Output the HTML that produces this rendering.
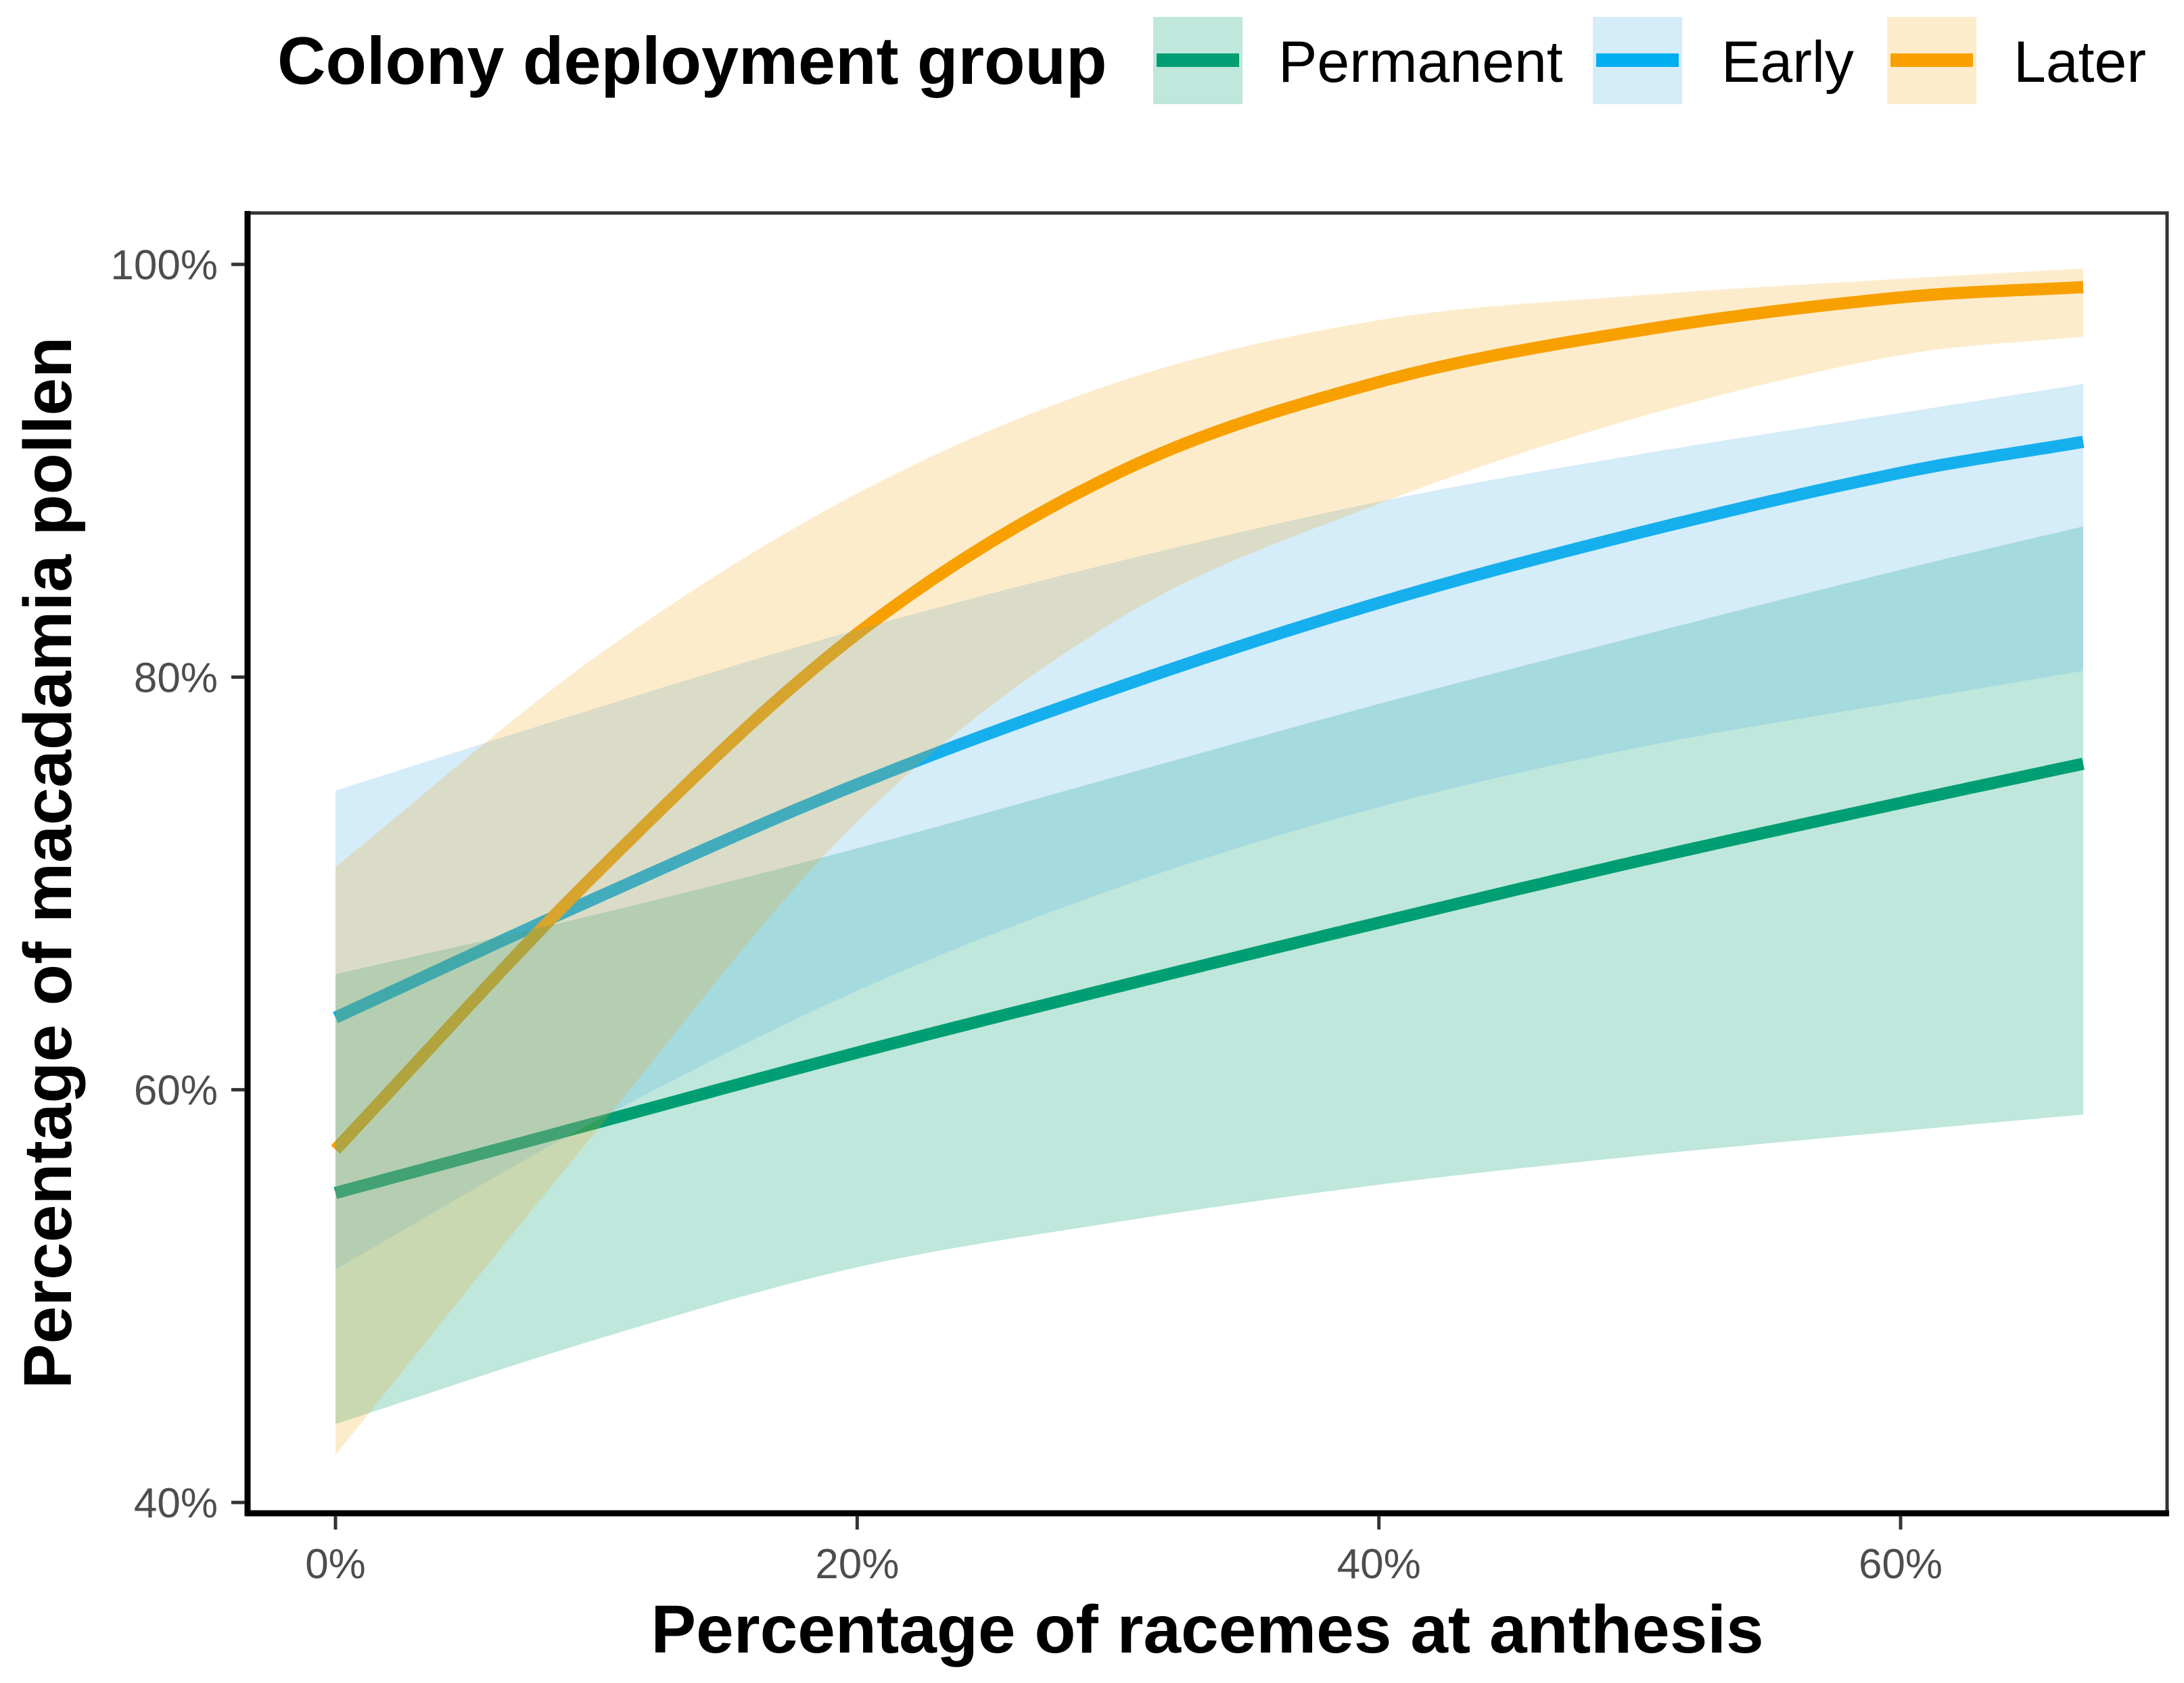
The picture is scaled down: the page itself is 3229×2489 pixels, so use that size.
<!DOCTYPE html>
<html><head><meta charset="utf-8"><style>
html,body{margin:0;padding:0;background:#fff;}
svg{display:block;}
text{font-family:"Liberation Sans",Arial,sans-serif;}
</style></head><body>
<svg id="chart" width="3229" height="2489" viewBox="0 0 3229 2489" xmlns="http://www.w3.org/2000/svg">
  <g id="legend">
    <text x="410" y="124" font-size="99" font-weight="bold" fill="#000">Colony deployment group</text>
    <g>
      <rect x="1705" y="25" width="132" height="129" fill="#009E73" fill-opacity="0.25"/>
      <rect x="1710" y="79" width="122" height="20" fill="#009E73"/>
      <text x="1890" y="121" font-size="86" fill="#000">Permanent</text>
    </g>
    <g>
      <rect x="2355" y="25" width="132" height="129" fill="#56B4E9" fill-opacity="0.25"/>
      <rect x="2360" y="79" width="122" height="20" fill="#00AEEF"/>
      <text x="2545" y="121" font-size="86" fill="#000">Early</text>
    </g>
    <g>
      <rect x="2790" y="25" width="132" height="129" fill="#F5A100" fill-opacity="0.2"/>
      <rect x="2795" y="79" width="122" height="20" fill="#F9A000"/>
      <text x="2977" y="121" font-size="86" fill="#000">Later</text>
    </g>
  </g>
  <g id="plot"></g>
  <g id="axes"></g>
  <text x="1785" y="2444" font-size="100" font-weight="bold" text-anchor="middle" fill="#000">Percentage of racemes at anthesis</text>
  <text transform="translate(105,1276) rotate(-90)" font-size="100" font-weight="bold" text-anchor="middle" fill="#000">Percentage of macadamia pollen</text>
</svg>
<script>
const xValues = [0, 10, 20, 30, 40, 50, 60, 67];
const permanentFit = [55.0, 58.4, 61.8, 65.0, 68.1, 71.1, 73.9, 75.8];
const permanentUpper = [65.6, 68.5, 71.7, 75.2, 78.7, 82.0, 85.2, 87.3];
const permanentLower = [43.8, 47.9, 51.4, 53.6, 55.4, 56.8, 58.0, 58.8];
const earlyFit = [63.5, 69.3, 74.8, 79.5, 83.6, 87.0, 89.9, 91.4];
const earlyUpper = [74.5, 78.5, 82.3, 85.6, 88.5, 90.8, 92.8, 94.2];
const earlyLower = [51.3, 58.5, 64.8, 69.8, 73.7, 76.6, 78.8, 80.3];
const laterFit = [57.1, 70.5, 82.1, 89.9, 94.3, 96.8, 98.4, 98.9];
const laterUpper = [70.8, 81.0, 88.9, 94.3, 97.3, 98.5, 99.3, 99.8];
const laterLower = [42.3, 58.0, 73.0, 82.8, 88.4, 92.6, 95.6, 96.5];
const xTicks = [0, 20, 40, 60];
const xTickLabels = ["0%", "20%", "40%", "60%"];
const yTicks = [40, 60, 80, 100];
const yTickLabels = ["40%", "60%", "80%", "100%"];

const NS = "http://www.w3.org/2000/svg";
const P = {left: 366, top: 315, right: 3204, bottom: 2238};
function xs(v){ return 496 + (v - 0) * (2810 - 496) / 60; }
function ys(v){ return 2222 - (v - 40) * (2222 - 391) / 60; }

function spline(xv, yv){
  const n = xv.length;
  const m = [];
  for(let i=0;i<n;i++){
    if(i===0) m.push((yv[1]-yv[0])/(xv[1]-xv[0]));
    else if(i===n-1) m.push((yv[n-1]-yv[n-2])/(xv[n-1]-xv[n-2]));
    else m.push((yv[i+1]-yv[i-1])/(xv[i+1]-xv[i-1]));
  }
  const pts = [];
  for(let i=0;i<n-1;i++){
    const h = xv[i+1]-xv[i];
    const steps = 24;
    for(let s=0;s<steps;s++){
      const t = s/steps, t2=t*t, t3=t2*t;
      const y = (2*t3-3*t2+1)*yv[i] + (t3-2*t2+t)*h*m[i] + (-2*t3+3*t2)*yv[i+1] + (t3-t2)*h*m[i+1];
      pts.push([xs(xv[i]+h*t), ys(y)]);
    }
  }
  pts.push([xs(xv[n-1]), ys(yv[n-1])]);
  return pts;
}
function toPath(pts){ return pts.map((p,i)=>(i?"L":"M")+p[0].toFixed(1)+","+p[1].toFixed(1)).join(""); }

const plot = document.getElementById("plot");
const series = [
  {key:"permanent", fit:permanentFit, up:permanentUpper, lo:permanentLower, line:"#009E73", fill:"#009E73", op:0.25},
  {key:"early", fit:earlyFit, up:earlyUpper, lo:earlyLower, line:"#00AEEF", fill:"#56B4E9", op:0.25},
  {key:"later", fit:laterFit, up:laterUpper, lo:laterLower, line:"#F9A000", fill:"#F5A100", op:0.2}
];
series.forEach(s=>{
  const el = document.createElementNS(NS,"path");
  el.setAttribute("d", toPath(spline(xValues, s.fit)));
  el.setAttribute("fill","none");
  el.setAttribute("stroke", s.line);
  el.setAttribute("stroke-width","18");
  
  
  plot.appendChild(el);
});
series.forEach(s=>{
  const up = spline(xValues, s.up);
  const lo = spline(xValues, s.lo).reverse();
  const el = document.createElementNS(NS,"path");
  el.setAttribute("d", toPath(up.concat(lo)) + "Z");
  el.setAttribute("fill", s.fill);
  el.setAttribute("fill-opacity", s.op);
  
  
  plot.appendChild(el);
});

const axes = document.getElementById("axes");
function mk(tag, attrs){ const e=document.createElementNS(NS,tag); for(const k in attrs) e.setAttribute(k, attrs[k]); return e; }
const frame = mk("rect",{x:P.left,y:P.top,width:P.right-P.left,height:P.bottom-P.top,fill:"none",stroke:"#333","stroke-width":"5"});


axes.appendChild(frame);
const yAxisLine = mk("line",{x1:P.left,y1:P.top-3,x2:P.left,y2:P.bottom+4,stroke:"#000","stroke-width":"9"});


axes.appendChild(yAxisLine);
const xAxisLine = mk("line",{x1:P.left-4,y1:P.bottom,x2:P.right+3,y2:P.bottom,stroke:"#000","stroke-width":"9"});


axes.appendChild(xAxisLine);
xTicks.forEach((v,i)=>{
  const t = mk("line",{x1:xs(v),y1:P.bottom+4,x2:xs(v),y2:P.bottom+24,stroke:"#333","stroke-width":"5"});
  
  
  axes.appendChild(t);
  const l = mk("text",{x:xs(v),y:2334,"font-size":"62","text-anchor":"middle",fill:"#4d4d4d"});
  l.textContent = xTickLabels[i];
  
  
  axes.appendChild(l);
});
yTicks.forEach((v,i)=>{
  const t = mk("line",{x1:P.left-24,y1:ys(v),x2:P.left-4,y2:ys(v),stroke:"#333","stroke-width":"5"});
  
  
  axes.appendChild(t);
  const l = mk("text",{x:P.left-44,y:ys(v)+22,"font-size":"62","text-anchor":"end",fill:"#4d4d4d"});
  l.textContent = yTickLabels[i];
  
  
  axes.appendChild(l);
});
</script>
</body></html>
